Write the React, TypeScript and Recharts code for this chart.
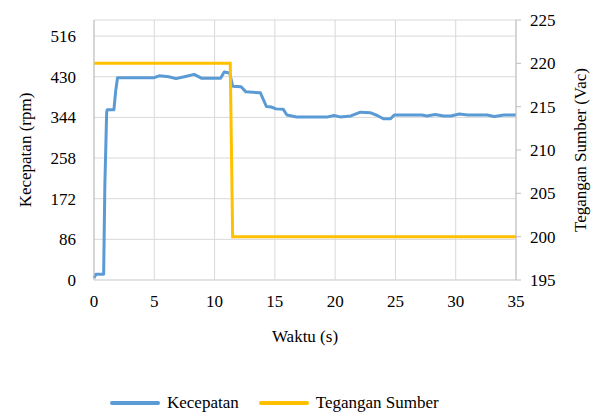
import React from "react";
import { LineChart, Line, XAxis, YAxis, CartesianGrid } from "recharts";

const timeTicks = [0, 5, 10, 15, 20, 25, 30, 35];
const speedTicks = [0, 86, 172, 258, 344, 430, 516];
const voltTicks = [195, 200, 205, 210, 215, 220, 225];

// Kecepatan (rpm) vs waktu (s)
const speedTime = [
  0, 0.15, 0.8, 0.9, 1.05, 1.1, 1.65, 1.8, 1.95, 5.0, 5.4, 6.2, 6.8, 7.5, 8.3, 8.9,
  10.5, 10.8, 11.25, 11.5, 12.2, 12.6, 13.8, 14.3, 14.7, 15.1, 15.7, 16.0, 16.8,
  19.4, 19.9, 20.4, 21.3, 22.1, 22.9, 23.5, 24.0, 24.6, 24.9, 27.2, 27.6, 28.3,
  29.0, 29.6, 30.3, 31.0, 32.6, 33.2, 34.0, 35,
];
const speedRpm = [
  4, 12, 12, 200, 355, 360, 360, 400, 428, 428, 432, 430, 426, 430, 435, 427,
  427, 440, 438, 410, 409, 398, 396, 367, 366, 362, 361, 349, 345,
  345, 348, 345, 347, 355, 354, 348, 341, 341, 349, 349, 347, 350,
  347, 347, 351, 349, 349, 346, 349, 349,
];

// Tegangan sumber (Vac) vs waktu (s)
const voltTime = [0, 11.3, 11.5, 35];
const voltVac = [220, 220, 200, 200];

const speedData = speedTime.map((t, i) => ({ t, rpm: speedRpm[i] }));
const voltData = voltTime.map((t, i) => ({ t, vac: voltVac[i] }));

const BLUE = "#5b9bd5";
const YELLOW = "#ffc000";
const FONT = "Liberation Serif, DejaVu Serif, serif";
const tickStyle = { fill: "#000", fontSize: 17, fontFamily: FONT };

export default function App() {
  return (
    <div style={{ fontFamily: FONT }}>
      <LineChart width={599} height={383} margin={{ top: 12, right: 0, bottom: 0, left: 0 }} style={{ fontFamily: FONT }}>
        <CartesianGrid stroke="#d9d9d9" yAxisId="left" />
        <XAxis
          dataKey="t"
          type="number"
          domain={[0, 35]}
          ticks={timeTicks}
          height={111}
          tickSize={0}
          tickMargin={15}
          axisLine={{ stroke: "#d9d9d9" }}
          tick={tickStyle}
          label={{ value: "Waktu (s)", position: "insideTop", offset: 50, ...tickStyle }}
        />
        <YAxis
          yAxisId="left"
          domain={[0, 550]}
          ticks={speedTicks}
          width={86}
          tickSize={0}
          tickMargin={18}
          axisLine={{ stroke: "#bfbfbf" }}
          tick={tickStyle}
          label={{
            value: "Kecepatan (rpm)",
            angle: -90,
            position: "insideLeft",
            offset: 17,
            ...tickStyle,
            style: { textAnchor: "middle", fontFamily: FONT },
          }}
        />
        <YAxis
          yAxisId="right"
          orientation="right"
          domain={[195, 225]}
          ticks={voltTicks}
          width={91}
          tickSize={5}
          tickMargin={9}
          axisLine={{ stroke: "#bfbfbf" }}
          tickLine={{ stroke: "#bfbfbf" }}
          tick={tickStyle}
          label={{
            value: "Tegangan Sumber (Vac)",
            angle: -90,
            position: "insideRight",
            offset: 27,
            ...tickStyle,
            style: { textAnchor: "middle", fontFamily: FONT },
          }}
        />
        <Line
          yAxisId="left"
          data={speedData}
          dataKey="rpm"
          name="Kecepatan"
          type="linear"
          stroke={BLUE}
          strokeWidth={3}
          strokeLinejoin="round"
          dot={false}
          isAnimationActive={false}
        />
        <Line
          yAxisId="right"
          data={voltData}
          dataKey="vac"
          name="Tegangan Sumber"
          type="linear"
          stroke={YELLOW}
          strokeWidth={3}
          dot={false}
          isAnimationActive={false}
        />
      </LineChart>
      <div style={{ display: "flex", alignItems: "center", height: 24, marginLeft: 102, fontSize: 17, color: "#000", fontFamily: FONT }}>
        <span style={{ display: "inline-block", width: 50, height: 4, borderRadius: 2, background: BLUE }} />
        <span style={{ marginLeft: 7, marginRight: 20 }}>Kecepatan</span>
        <span style={{ display: "inline-block", width: 50, height: 4, borderRadius: 2, background: YELLOW }} />
        <span style={{ marginLeft: 7 }}>Tegangan Sumber</span>
      </div>
    </div>
  );
}
